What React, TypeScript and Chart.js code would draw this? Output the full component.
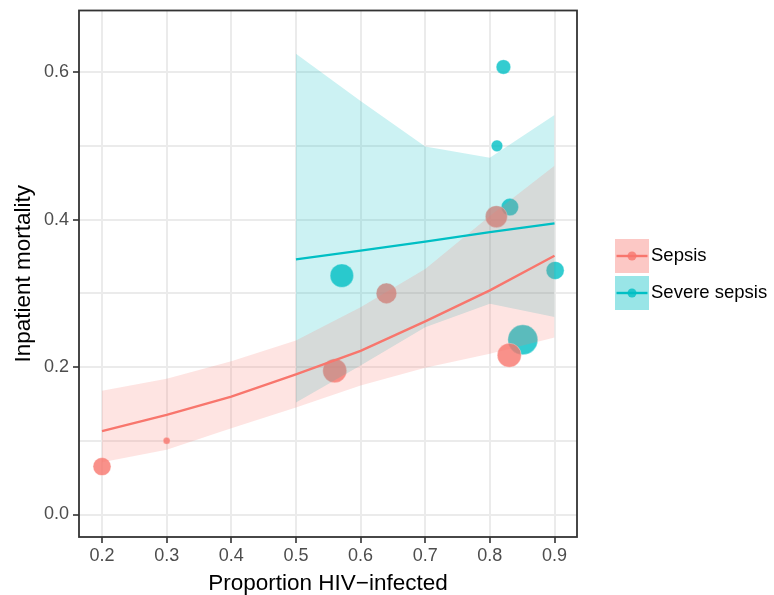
import React, { useEffect, useRef } from 'react';
import { Chart, registerables } from 'chart.js';

Chart.register(...registerables);

// ---- data ----
const xTicks = [0.2, 0.3, 0.4, 0.5, 0.6, 0.7, 0.8, 0.9];
const yTicks = [0, 0.1, 0.2, 0.3, 0.4, 0.5, 0.6];
const yLabelled = [0, 0.2, 0.4, 0.6];

const seriesNames = ['Sepsis', 'Severe sepsis'];

const sepsisX = [0.2, 0.3, 0.56, 0.64, 0.81, 0.83];
const sepsisY = [0.065, 0.1, 0.195, 0.3, 0.404, 0.216];
const sepsisSize = [9, 3.5, 12, 10.3, 11, 12];

const severeX = [0.571, 0.821, 0.811, 0.831, 0.851, 0.901];
const severeY = [0.324, 0.607, 0.5, 0.417, 0.237, 0.331];
const severeSize = [11.7, 7.3, 5.8, 8.7, 15, 9];

const sepsisFitX = [0.2, 0.3, 0.4, 0.5, 0.6, 0.7, 0.8, 0.9];
const sepsisFit = [0.113, 0.135, 0.16, 0.19, 0.222, 0.262, 0.304, 0.351];
const sepsisUpper = [0.168, 0.184, 0.208, 0.236, 0.281, 0.333, 0.405, 0.473];
const sepsisLower = [0.071, 0.088, 0.117, 0.145, 0.175, 0.199, 0.218, 0.24];

const severeFitX = [0.5, 0.6, 0.7, 0.8, 0.9];
const severeFit = [0.346, 0.358, 0.37, 0.383, 0.395];
const severeUpper = [0.625, 0.561, 0.499, 0.484, 0.542];
const severeLower = [0.152, 0.202, 0.254, 0.286, 0.268];

// ---- styles ----
const RED = '#F8766D';
const CYAN = '#00BFC4';
const FONT = "'Liberation Sans', Arial, Helvetica, sans-serif";

const pts = (xs: number[], ys: number[]) => xs.map((x, i) => ({ x, y: ys[i] }));
const bub = (xs: number[], ys: number[], rs: number[]) =>
  xs.map((x, i) => ({ x, y: ys[i], r: rs[i] }));

const isLabelled = (v: number) => yLabelled.some((t) => Math.abs(t - v) < 1e-9);

const borderPlugin = {
  id: 'panelBorder',
  afterDraw(chart: any) {
    const { ctx, chartArea: a } = chart;
    ctx.save();
    ctx.strokeStyle = '#333333';
    ctx.lineWidth = 1.8;
    ctx.strokeRect(a.left, a.top, a.right - a.left, a.bottom - a.top);
    ctx.restore();
  },
};

const legendPlugin = {
  id: 'ggLegend',
  afterDraw(chart: any) {
    const { ctx } = chart;
    const keys = [
      { name: seriesNames[0], color: RED, bg: 'rgba(248,118,109,0.4)', pt: 'rgba(248,118,109,0.8)' },
      { name: seriesNames[1], color: CYAN, bg: 'rgba(0,191,196,0.4)', pt: 'rgba(0,191,196,0.8)' },
    ];
    const x0 = 615;
    const size = 34;
    const y0 = 239;
    const step = 37;
    ctx.save();
    keys.forEach((k, i) => {
      const y = y0 + i * step;
      ctx.fillStyle = k.bg;
      ctx.fillRect(x0, y, size, size);
      const cy = y + size / 2;
      ctx.strokeStyle = k.color;
      ctx.lineWidth = 2.4;
      ctx.beginPath();
      ctx.moveTo(x0 + 1.5, cy);
      ctx.lineTo(x0 + size - 1.5, cy);
      ctx.stroke();
      ctx.fillStyle = k.pt;
      ctx.beginPath();
      ctx.arc(x0 + size / 2, cy, 4.5, 0, Math.PI * 2);
      ctx.fill();
      ctx.fillStyle = '#000000';
      ctx.font = `18.5px ${FONT}`;
      ctx.textAlign = 'left';
      ctx.textBaseline = 'middle';
      ctx.fillText(k.name, x0 + size + 2, cy);
    });
    ctx.restore();
  },
};

export default function App() {
  const canvasRef = useRef<HTMLCanvasElement | null>(null);

  useEffect(() => {
    document.body.style.margin = '0';
    const canvas = canvasRef.current;
    if (!canvas) return;

    const chart = new Chart(canvas, {
      type: 'scatter',
      data: {
        datasets: [
          {
            type: 'bubble',
            label: seriesNames[1] + ' points',
            data: bub(severeX, severeY, severeSize),
            backgroundColor: 'rgba(0,191,196,0.8)',
            borderColor: 'rgba(255,255,255,0.35)',
            borderWidth: 1,
            order: 10,
          } as any,
          {
            type: 'bubble',
            label: seriesNames[0] + ' points',
            data: bub(sepsisX, sepsisY, sepsisSize),
            backgroundColor: 'rgba(248,118,109,0.8)',
            borderColor: 'rgba(255,255,255,0.35)',
            borderWidth: 1,
            order: 9,
          } as any,
          {
            type: 'line',
            label: 'severe upper',
            data: pts(severeFitX, severeUpper),
            showLine: true,
            borderColor: 'transparent',
            borderWidth: 0,
            pointRadius: 0,
            backgroundColor: 'rgba(0,191,196,0.2)',
            fill: '+1',
            tension: 0,
            order: 8,
          } as any,
          {
            type: 'line',
            label: 'severe lower',
            data: pts(severeFitX, severeLower),
            showLine: true,
            borderColor: 'transparent',
            borderWidth: 0,
            pointRadius: 0,
            fill: false,
            tension: 0,
            order: 8,
          } as any,
          {
            type: 'line',
            label: 'sepsis upper',
            data: pts(sepsisFitX, sepsisUpper),
            showLine: true,
            borderColor: 'transparent',
            borderWidth: 0,
            pointRadius: 0,
            backgroundColor: 'rgba(248,118,109,0.2)',
            fill: '+1',
            tension: 0,
            order: 7,
          } as any,
          {
            type: 'line',
            label: 'sepsis lower',
            data: pts(sepsisFitX, sepsisLower),
            showLine: true,
            borderColor: 'transparent',
            borderWidth: 0,
            pointRadius: 0,
            fill: false,
            tension: 0,
            order: 7,
          } as any,
          {
            type: 'line',
            label: seriesNames[1],
            data: pts(severeFitX, severeFit),
            showLine: true,
            borderColor: CYAN,
            borderWidth: 2.3,
            pointRadius: 0,
            fill: false,
            tension: 0,
            order: 2,
          } as any,
          {
            type: 'line',
            label: seriesNames[0],
            data: pts(sepsisFitX, sepsisFit),
            showLine: true,
            borderColor: RED,
            borderWidth: 2.3,
            pointRadius: 0,
            fill: false,
            tension: 0,
            order: 1,
          } as any,
        ],
      },
      options: {
        animation: false,
        responsive: true,
        maintainAspectRatio: false,
        events: [],
        layout: { autoPadding: false, padding: { left: 0, right: 197, top: 10.5, bottom: 0 } },
        plugins: {
          legend: { display: false },
          tooltip: { enabled: false },
        },
        scales: {
          x: {
            type: 'linear',
            min: 0.1644,
            max: 0.9348,
            afterBuildTicks: (s: any) => {
              s.ticks = xTicks.map((v) => ({ value: v }));
            },
            afterFit: (s: any) => {
              s.height = 58;
              s.paddingLeft = 0;
              s.paddingRight = 0;
            },
            border: { display: false },
            grid: {
              color: '#ebebeb',
              lineWidth: 2,
              tickLength: 6,
              tickColor: '#333333',
              tickWidth: 1.6,
            },
            ticks: {
              color: '#4d4d4d',
              font: { family: FONT, size: 18 },
              padding: 2,
              maxRotation: 0,
              autoSkip: false,
              callback: (v: any) => Number(v).toFixed(1),
            },
            title: {
              display: true,
              text: 'Proportion HIV\u2212infected',
              color: '#000000',
              font: { family: FONT, size: 22.5 },
              padding: { top: 0, bottom: -2 },
            },
          },
          y: {
            type: 'linear',
            min: -0.0305,
            max: 0.6836,
            afterBuildTicks: (s: any) => {
              s.ticks = yTicks.map((v) => ({ value: v }));
            },
            afterFit: (s: any) => {
              s.width = 79;
              s.paddingTop = 0;
              s.paddingBottom = 0;
            },
            border: { display: false },
            grid: {
              color: '#ebebeb',
              lineWidth: 2,
              tickLength: 6,
              tickColor: (c: any) => (c.tick && isLabelled(c.tick.value) ? '#333333' : 'rgba(0,0,0,0)'),
              tickWidth: 1.6,
            },
            ticks: {
              color: '#4d4d4d',
              font: { family: FONT, size: 18 },
              padding: 4,
              autoSkip: false,
              callback: (v: any) => (isLabelled(Number(v)) ? Number(v).toFixed(1) : ''),
            },
            title: {
              display: true,
              text: 'Inpatient mortality',
              color: '#000000',
              font: { family: FONT, size: 22.5 },
              padding: { top: 10.5, bottom: 0 },
            },
          },
        },
      } as any,
      plugins: [borderPlugin, legendPlugin],
    });

    return () => {
      chart.destroy();
    };
  }, []);

  return (
    <div style={{ position: 'absolute', left: 0, top: 0, width: 774, height: 595, background: '#ffffff' }}>
      <canvas ref={canvasRef} />
    </div>
  );
}
